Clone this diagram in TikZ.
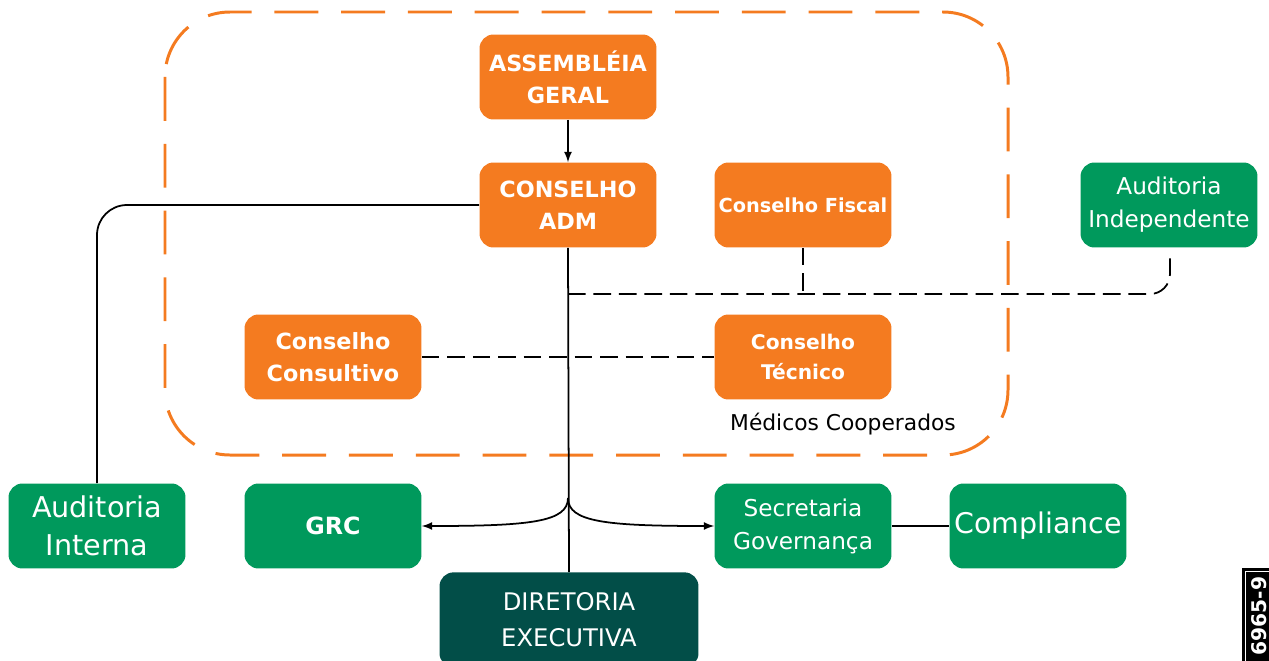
\documentclass[tikz,border=0pt]{standalone}
\usepackage{fontspec}
\setmainfont{DejaVu Sans}
\usepackage{xcolor}

\definecolor{laranja}{HTML}{F47B20}
\definecolor{verde}{HTML}{00995C}
\definecolor{escuro}{HTML}{024E48}

\tikzset{
    caixa/.style={rounded corners=0.28cm, minimum width=3.54cm, minimum height=1.7cm,
        inner sep=0pt, align=center, text=white},
    laranjabox/.style={caixa, fill=laranja, font=\bfseries\fontsize{12.7}{18}\selectfont},
    verdebox/.style={caixa, fill=verde, font=\fontsize{13.2}{18.7}\selectfont},
    liga/.style={line width=1pt},
    tracejado/.style={line width=1pt, dash pattern=on 10pt off 4.5pt},
}

\begin{document}
\begin{tikzpicture}[x=0.02cm, y=-0.02cm, >=latex]
    \useasboundingbox (0,0) rectangle (1269,660);
    \clip (0,0) rectangle (1269,660);
    % Medicos Cooperados
    \draw[laranja, line width=1.7pt, dash pattern=on 25pt off 13pt, rounded corners=1.3cm] (165,12) rectangle (1008,455);
    \node[font=\fontsize{12.4}{15}\selectfont] (cooperados) at (843,424) {Médicos Cooperados};
    % Conselhos
    \node[laranjabox] (assembleia) at (568,77) {ASSEMBLÉIA\\GERAL};
    \node[laranjabox] (conselhoadm) at (568,205) {CONSELHO\\ADM};
    \node[laranjabox, font=\bfseries\fontsize{11}{15}\selectfont] (fiscal) at (803,205) {Conselho Fiscal};
    \node[laranjabox] (consultivo) at (333,357) {Conselho\\Consultivo};
    \node[laranjabox, font=\bfseries\fontsize{11.5}{17}\selectfont] (tecnico) at (803,357) {Conselho\\Técnico};
    % Auditorias e areas
    \node[verdebox] (independente) at (1169,205) {Auditoria\\Independente};
    \node[verdebox, font=\fontsize{16.3}{21.5}\selectfont] (interna) at (97,526) {Auditoria\\Interna};
    \node[verdebox, font=\bfseries\fontsize{13.5}{18}\selectfont] (grc) at (333,526) {GRC};
    \node[verdebox] (secretaria) at (803,526) {Secretaria\\Governança};
    \node[verdebox, font=\fontsize{16.2}{20}\selectfont] (compliance) at (1038,526) {Compliance};
    % Diretoria
    \node[caixa, fill=escuro, minimum width=5.18cm, minimum height=1.9cm, anchor=north,
        font=\fontsize{13.8}{20.4}\selectfont] (diretoria) at (569,572) {DIRETORIA\\EXECUTIVA};
    % Ligacoes
    \coordinate (garfo) at (568,498);
    \coordinate (tracos) at (568,294);
    \coordinate (auditorialink) at (1170,258);
    \draw[liga, ->] (assembleia) -- (conselhoadm);
    \draw[liga, rounded corners=0.6cm] (conselhoadm.west) -| (interna.north);
    \draw[liga] (conselhoadm.south) -- (diretoria.north);
    \draw[liga, ->] (garfo) .. controls (568,522) and (530,526) .. (grc.east);
    \draw[liga, ->] (garfo) .. controls (568,522) and (606,526) .. (secretaria.west);
    \draw[liga] (secretaria) -- (compliance);
    \draw[tracejado] (consultivo) -- (tecnico);
    \draw[tracejado, rounded corners=0.4cm] (tracos) -| (auditorialink);
    \draw[tracejado] (fiscal.south) -- (fiscal.south |- tracos);
    % Codigo
    \node[fill=black, draw=black, double=white, double distance=0.5pt, line width=1.2pt, rotate=90,
        text=white, font=\bfseries\fontsize{11.5}{14}\selectfont, minimum width=1.8cm,
        minimum height=0.56cm, inner sep=1pt] (codigo) at (1259,616) {6965-9};
\end{tikzpicture}
\end{document}
